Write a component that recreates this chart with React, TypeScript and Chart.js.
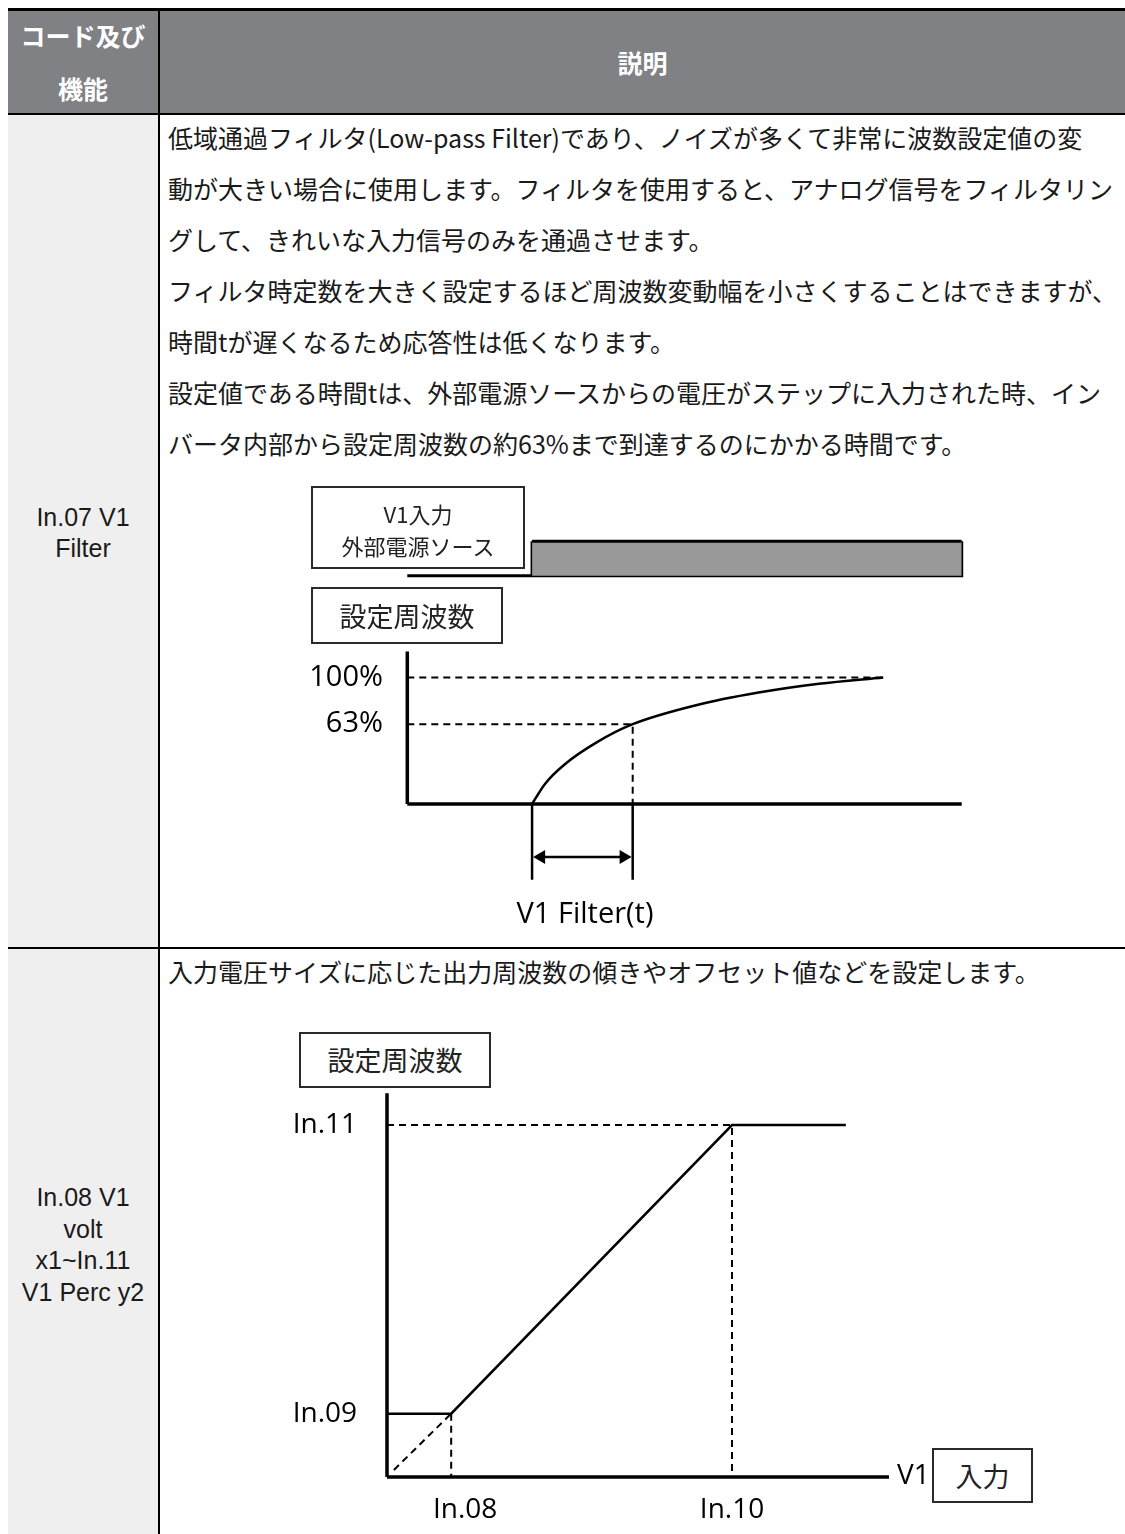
import React, { useEffect, useRef } from "react";
import { Chart, registerables } from "chart.js";

Chart.register(...registerables);

// ---------------- table texts ----------------
const headerCode = ["コード及び", "機能"];
const headerDesc = "説明";
const row1Code = ["In.07 V1", "Filter"];
const row1Lines = [
  "低域通過フィルタ(Low-pass Filter)であり、ノイズが多くて非常に波数設定値の変",
  "動が大きい場合に使用します。フィルタを使用すると、アナログ信号をフィルタリン",
  "グして、きれいな入力信号のみを通過させます。",
  "フィルタ時定数を大きく設定するほど周波数変動幅を小さくすることはできますが、",
  "時間tが遅くなるため応答性は低くなります。",
  "設定値である時間tは、外部電源ソースからの電圧がステップに入力された時、イン",
  "バータ内部から設定周波数の約63%まで到達するのにかかる時間です。",
];
const row2Code = ["In.08 V1", "volt", "x1~In.11", "V1 Perc y2"];
const row2Lines = ["入力電圧サイズに応じた出力周波数の傾きやオフセット値などを設定します。"];

// ---------------- diagram 1: filter step response ----------------
const inputBoxLines = ["V1入力", "外部電源ソース"];
const freqBoxLabel = "設定周波数";
const filterLabel = "V1 Filter(t)";
// time in multiples of the filter time t, response in % of set frequency
const filterTime = [0, 0.13, 0.32, 0.65, 1, 1.63, 2.25, 2.85, 3.49];
const filterResponse = [0, 16, 31, 49, 63, 78, 88, 95, 100];
const responseTicks = [63, 100];
const responseTickLabels = ["63%", "100%"];
const timeAxisStart = -1.24;
const timeAxisEnd = 4.27;
const responseAxisTop = 120.5;
const stepInputTimes = [0, 4.27];
const stepInputLevels = [0, 1]; // low, high
const filterTimeMarks = [0, 1];
const markDepth = -60;
const arrowLevel = -42;

// ---------------- diagram 2: V1 input vs set frequency ----------------
const inputLabel = "入力";
const v1Label = "V1";
const v1Volts = [0, 1.86, 10, 13.3];
const freqPercent = [18, 18, 100, 100];
const v1Ticks = [1.86, 10];
const v1TickLabels = ["\u2002\u2002In.08", "In.10"];
const freqTicks = [18, 100];
const freqTickLabels = ["In.09", "In.11"];
const biasGuideVolts = [0.2, 1.86];
const biasGuidePercent = [2, 18];
const v1AxisEnd = 14.55;
const freqAxisTop = 109;

const BLACK = "#000000";
const CJK = "'Noto Sans CJK JP', sans-serif";
const LATIN = "'Open Sans', 'Noto Sans', sans-serif";

type Pt = { x: number; y: number | null };
const pts = (xs: number[], ys: number[]): Pt[] => xs.map((x, i) => ({ x, y: ys[i] }));

const lineDs = (data: Pt[], extra: any = {}) => ({
  data,
  showLine: true,
  borderColor: BLACK,
  borderWidth: 2,
  pointRadius: 0,
  fill: false,
  spanGaps: false,
  ...extra,
});

function FilterChart() {
  const ref = useRef<HTMLCanvasElement>(null);
  useEffect(() => {
    if (!ref.current) return;
    const dash = [7, 5];
    const chart = new Chart(ref.current, {
      type: "scatter",
      data: {
        datasets: [
          // step input bar
          lineDs(pts(stepInputTimes, [stepInputLevels[1], stepInputLevels[1]]), {
            yAxisID: "y2",
            fill: { value: stepInputLevels[0] },
            backgroundColor: "#999999",
            borderWidth: 3,
          }),
          lineDs(
            [
              { x: timeAxisStart, y: stepInputLevels[0] },
              { x: stepInputTimes[1], y: stepInputLevels[0] },
              { x: stepInputTimes[1], y: stepInputLevels[1] },
              { x: 2, y: null },
              { x: stepInputTimes[0], y: stepInputLevels[0] },
              { x: stepInputTimes[0], y: stepInputLevels[1] },
            ],
            { yAxisID: "y2", borderWidth: 3 }
          ),
          // axes
          lineDs(pts([timeAxisStart, timeAxisStart], [0, responseAxisTop]), { borderWidth: 3.5 }),
          lineDs(pts([timeAxisStart, timeAxisEnd], [0, 0]), { borderWidth: 3.5 }),
          // guides
          lineDs(pts([timeAxisStart, filterTime[filterTime.length - 1]], [100, 100]), { borderDash: dash }),
          lineDs(pts([timeAxisStart, 1, 1], [63, 63, 0]), { borderDash: dash }),
          // response curve
          lineDs(pts(filterTime, filterResponse), { borderWidth: 2.5, cubicInterpolationMode: "monotone" }),
          // time marks
          lineDs(
            [
              { x: filterTimeMarks[0], y: 0 },
              { x: filterTimeMarks[0], y: markDepth },
              { x: 0.5, y: null },
              { x: filterTimeMarks[1], y: 0 },
              { x: filterTimeMarks[1], y: markDepth },
            ],
            { borderWidth: 2.5 }
          ),
          // double arrow
          lineDs(pts([filterTimeMarks[0] + 0.09, filterTimeMarks[1] - 0.09], [arrowLevel, arrowLevel]), {
            borderWidth: 2.5,
            pointRadius: 8,
            pointStyle: "triangle",
            pointRotation: [-90, 90],
            pointBackgroundColor: BLACK,
            pointBorderColor: BLACK,
            pointBorderWidth: 0,
          }),
        ],
      },
      options: {
        responsive: false,
        animation: false,
        events: [],
        layout: { padding: 0 },
        plugins: { legend: { display: false }, tooltip: { enabled: false } },
        scales: {
          x: { type: "linear", display: false, min: -1.402, max: 4.402 },
          y: {
            type: "linear",
            min: -70.45,
            max: 219.7,
            grid: { display: false },
            border: { display: false },
            afterBuildTicks: (s: any) => {
              s.ticks = responseTicks.map((v) => ({ value: v }));
            },
            afterFit: (s: any) => {
              s.width = 91;
              s.paddingTop = 0;
              s.paddingBottom = 0;
            },
            ticks: {
              padding: 0,
              color: "#000",
              font: { family: LATIN, size: 29 },
              callback: (v: any) => {
                const i = responseTicks.indexOf(Number(v));
                return i >= 0 ? responseTickLabels[i] : "";
              },
            },
          },
          y2: { type: "linear", display: false, min: -9.194, max: 1.444 },
        },
      },
    } as any);
    return () => chart.destroy();
  }, []);
  return (
    <canvas
      ref={ref}
      width={683}
      height={383}
      style={{ position: "absolute", left: 300, top: 518, width: 683, height: 383 }}
    />
  );
}

function V1Chart() {
  const ref = useRef<HTMLCanvasElement>(null);
  useEffect(() => {
    if (!ref.current) return;
    const dash = [7, 5];
    const chart = new Chart(ref.current, {
      type: "scatter",
      data: {
        datasets: [
          lineDs(pts([0, 0], [0, freqAxisTop]), { borderWidth: 3.5 }),
          lineDs(pts([0, v1AxisEnd], [0, 0]), { borderWidth: 3.5 }),
          lineDs(pts([0, v1Ticks[1], v1Ticks[1]], [freqTicks[1], freqTicks[1], 0]), { borderDash: dash }),
          lineDs(pts([v1Ticks[0], v1Ticks[0]], [freqTicks[0], 0]), { borderDash: dash }),
          lineDs(pts(biasGuideVolts, biasGuidePercent), { borderDash: dash }),
          lineDs(pts(v1Volts, freqPercent), { borderWidth: 2.5 }),
        ],
      },
      options: {
        responsive: false,
        animation: false,
        events: [],
        layout: { padding: 0 },
        plugins: { legend: { display: false }, tooltip: { enabled: false } },
        scales: {
          x: {
            type: "linear",
            min: -0.203,
            max: 15.014,
            grid: { display: false },
            border: { display: false },
            afterBuildTicks: (s: any) => {
              s.ticks = v1Ticks.map((v) => ({ value: v }));
            },
            afterFit: (s: any) => {
              s.height = 50;
              s.paddingLeft = 0;
              s.paddingRight = 0;
            },
            ticks: {
              padding: -1,
              maxRotation: 0,
              autoSkip: false,
              color: "#000",
              font: { family: LATIN, size: 28 },
              callback: (v: any) => {
                const i = v1Ticks.indexOf(Number(v));
                return i >= 0 ? v1TickLabels[i] : "";
              },
            },
          },
          y: {
            type: "linear",
            min: -2.557,
            max: 113.07,
            grid: { display: false },
            border: { display: false },
            afterBuildTicks: (s: any) => {
              s.ticks = freqTicks.map((v) => ({ value: v }));
            },
            afterFit: (s: any) => {
              s.width = 100;
              s.paddingTop = 0;
              s.paddingBottom = 0;
            },
            ticks: {
              padding: 15,
              color: "#000",
              font: { family: LATIN, size: 28 },
              callback: (v: any) => {
                const i = freqTicks.indexOf(Number(v));
                return i >= 0 ? freqTickLabels[i] : "";
              },
            },
          },
        },
      },
    } as any);
    return () => chart.destroy();
  }, []);
  return (
    <canvas
      ref={ref}
      width={625}
      height={457}
      style={{ position: "absolute", left: 280, top: 1079, width: 625, height: 457 }}
    />
  );
}

const abs = (left: number, top: number, width: number, height: number, extra: React.CSSProperties = {}): React.CSSProperties => ({
  position: "absolute",
  left,
  top,
  width,
  height,
  ...extra,
});

function Box({ left, top, width, height, lines, size }: { left: number; top: number; width: number; height: number; lines: { text: string; cy: number }[]; size: number }) {
  return (
    <div style={abs(left, top, width, height, { border: "2px solid #2a2a2a", background: "#fff", boxSizing: "border-box" })}>
      {lines.map((l, i) => (
        <div
          key={i}
          style={{
            position: "absolute",
            left: 0,
            width: width - 4,
            top: l.cy - top - 2 - 20,
            height: 40,
            lineHeight: "40px",
            textAlign: "center",
            fontFamily: CJK,
            fontSize: size,
            color: "#222",
            whiteSpace: "nowrap",
          }}
        >
          {l.text}
        </div>
      ))}
    </div>
  );
}

export default function App() {
  const bodyText: React.CSSProperties = {
    position: "absolute",
    left: 168,
    height: 30,
    lineHeight: "30px",
    fontFamily: CJK,
    fontSize: 25,
    color: "#1a1a1a",
    whiteSpace: "nowrap",
  };
  const codeText: React.CSSProperties = {
    position: "absolute",
    left: 8,
    width: 150,
    height: 30,
    lineHeight: "30px",
    textAlign: "center",
    fontFamily: "'Liberation Sans', Arial, sans-serif",
    fontSize: 25,
    color: "#1a1a1a",
    whiteSpace: "nowrap",
  };
  const headText: React.CSSProperties = {
    position: "absolute",
    height: 40,
    lineHeight: "40px",
    textAlign: "center",
    fontFamily: CJK,
    fontWeight: 700,
    fontSize: 25,
    color: "#ffffff",
    whiteSpace: "nowrap",
  };
  return (
    <div style={{ position: "absolute", left: 0, top: 0, width: 1125, height: 1534, overflow: "hidden", background: "#fff" }}>
      {/* table frame */}
      <div style={abs(8, 11, 1117, 102, { background: "#808185" })} />
      <div style={abs(8, 115, 150, 1430, { background: "#efefef" })} />
      <div style={abs(8, 8, 1117, 3, { background: "#000" })} />
      <div style={abs(8, 113, 1117, 2, { background: "#000" })} />
      <div style={abs(8, 947, 1117, 2, { background: "#000" })} />
      <div style={abs(158, 11, 2, 1530, { background: "#000" })} />

      {/* header */}
      <div style={{ ...headText, left: 8, width: 150, top: 35 - 20 }}>{headerCode[0]}</div>
      <div style={{ ...headText, left: 8, width: 150, top: 88 - 20 }}>{headerCode[1]}</div>
      <div style={{ ...headText, left: 160, width: 965, top: 62 - 20 }}>{headerDesc}</div>

      {/* row 1 */}
      {row1Code.map((t, i) => (
        <div key={"c1" + i} style={{ ...codeText, top: 517 + 31 * i - 15 }}>
          {t}
        </div>
      ))}
      {row1Lines.map((t, i) => (
        <div key={"l1" + i} style={{ ...bodyText, top: 137 + 51 * i - 15 }}>
          {t}
        </div>
      ))}

      <FilterChart />
      <Box
        left={311}
        top={486}
        width={214}
        height={83}
        size={22}
        lines={[
          { text: inputBoxLines[0], cy: 513 },
          { text: inputBoxLines[1], cy: 545 },
        ]}
      />
      <Box left={311} top={587} width={192} height={57} size={27} lines={[{ text: freqBoxLabel, cy: 616 }]} />
      <div
        style={abs(485, 912 - 20, 200, 40, {
          lineHeight: "40px",
          textAlign: "center",
          fontFamily: LATIN,
          fontSize: 29,
          color: "#000",
          whiteSpace: "nowrap",
        })}
      >
        {filterLabel}
      </div>

      {/* row 2 */}
      {row2Code.map((t, i) => (
        <div key={"c2" + i} style={{ ...codeText, top: 1197 + 31.7 * i - 15 }}>
          {t}
        </div>
      ))}
      {row2Lines.map((t, i) => (
        <div key={"l2" + i} style={{ ...bodyText, top: 971 + 51 * i - 15 }}>
          {t}
        </div>
      ))}

      <V1Chart />
      <Box left={299} top={1032} width={192} height={56} size={27} lines={[{ text: freqBoxLabel, cy: 1060 }]} />
      <div
        style={abs(897, 1473 - 20, 40, 40, {
          lineHeight: "40px",
          fontFamily: LATIN,
          fontSize: 28,
          color: "#000",
          whiteSpace: "nowrap",
        })}
      >
        {v1Label}
      </div>
      <Box left={932} top={1448} width={101} height={55} size={27} lines={[{ text: inputLabel, cy: 1476 }]} />
    </div>
  );
}
